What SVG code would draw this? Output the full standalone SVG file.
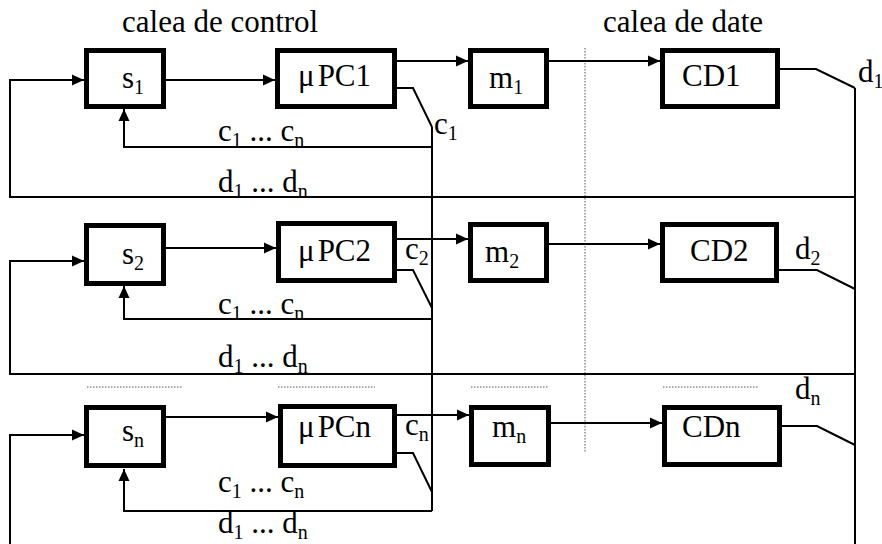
<svg xmlns="http://www.w3.org/2000/svg" width="882" height="544" viewBox="0 0 882 544">
<style>
.box{fill:#fff;stroke:#000;stroke-width:5}
.ln{fill:none;stroke:#000;stroke-width:2}
.arr{fill:none;stroke:#000;stroke-width:2;marker-end:url(#ah)}
.dot{fill:none;stroke:#555;stroke-width:1;stroke-dasharray:1.5 1.5}
text{font-family:'Liberation Serif','Times New Roman',serif;font-size:31px;fill:#000}
.sub{font-size:20px}
</style>
<defs>
<marker id="ah" markerWidth="12" markerHeight="12" refX="12" refY="6" orient="auto" markerUnits="userSpaceOnUse">
<path d="M0,0.5 L12,6 L0,11.5 z" fill="#000"/>
</marker>
</defs>
<rect width="882" height="544" fill="#fff"/>
<text x="122" y="32">calea de control</text>
<text x="603" y="32">calea de date</text>
<g id="connectors">
<line class="dot" x1="585" y1="48" x2="585" y2="452"/>
<line class="dot" x1="87" y1="387" x2="183" y2="387"/>
<line class="dot" x1="278" y1="387" x2="375" y2="387"/>
<line class="dot" x1="471" y1="387" x2="549" y2="387"/>
<line class="dot" x1="663" y1="387" x2="759" y2="387"/>
<line class="arr" x1="166" y1="80" x2="275" y2="80"/>
<line class="arr" x1="397" y1="61" x2="468" y2="61"/>
<line class="arr" x1="549" y1="61" x2="660" y2="61"/>
<polyline class="ln" points="397,88 413,88 432,127"/>
<polyline class="ln" points="780,69 816,69 855,88"/>
<polyline class="arr" points="432,147 124,147 124,109"/>
<polyline class="arr" points="855,197 10,197 10,80 84,80"/>
<line class="arr" x1="166" y1="248" x2="276" y2="248"/>
<line class="arr" x1="397" y1="239" x2="468" y2="239"/>
<line class="arr" x1="549" y1="244" x2="660" y2="244"/>
<polyline class="ln" points="397,270 413,270 432,308"/>
<polyline class="ln" points="779,270 817,270 855,289"/>
<polyline class="arr" points="432,319 124,319 124,286"/>
<polyline class="arr" points="855,374 10,374 10,261 84,261"/>
<line class="arr" x1="166" y1="417" x2="278" y2="417"/>
<line class="arr" x1="397" y1="415" x2="469" y2="415"/>
<line class="arr" x1="551" y1="423" x2="662" y2="423"/>
<polyline class="ln" points="397,453 413,453 432,492"/>
<polyline class="ln" points="782,426 817,426 855,445"/>
<polyline class="arr" points="432,511 124,511 124,469"/>
<polyline class="arr" points="10,546 10,435 84,435"/>
<line class="ln" x1="432" y1="127" x2="432" y2="511"/>
<line class="ln" x1="855" y1="88" x2="855" y2="546"/>
</g>
<g id="labels">
<text x="434" y="134">c<tspan class="sub" dy="6">1</tspan></text>
<text x="858" y="82">d<tspan class="sub" dy="6">1</tspan></text>
<text x="405" y="259">c<tspan class="sub" dy="6">2</tspan></text>
<text x="795" y="259">d<tspan class="sub" dy="6">2</tspan></text>
<text x="405" y="435">c<tspan class="sub" dy="6">n</tspan></text>
<text x="795" y="399">d<tspan class="sub" dy="6">n</tspan></text>
<text x="218" y="141">c<tspan class="sub" dy="6">1</tspan><tspan dy="-6"> ... c</tspan><tspan class="sub" dy="6">n</tspan></text>
<text x="218" y="192">d<tspan class="sub" dy="6">1</tspan><tspan dy="-6"> ... d</tspan><tspan class="sub" dy="6">n</tspan></text>
<text x="218" y="314">c<tspan class="sub" dy="6">1</tspan><tspan dy="-6"> ... c</tspan><tspan class="sub" dy="6">n</tspan></text>
<text x="218" y="367">d<tspan class="sub" dy="6">1</tspan><tspan dy="-6"> ... d</tspan><tspan class="sub" dy="6">n</tspan></text>
<text x="218" y="492">c<tspan class="sub" dy="6">1</tspan><tspan dy="-6"> ... c</tspan><tspan class="sub" dy="6">n</tspan></text>
<text x="218" y="533">d<tspan class="sub" dy="6">1</tspan><tspan dy="-6"> ... d</tspan><tspan class="sub" dy="6">n</tspan></text>
</g>
<g id="s1"><rect class="box" x="86.5" y="50.5" width="77" height="56"/><text x="122" y="88">s<tspan class="sub" dy="6">1</tspan></text></g>
<g id="uPC1"><rect class="box" x="277.5" y="50.5" width="117" height="56"/><text x="298" y="86">μ<tspan dx="3">PC1</tspan></text></g>
<g id="m1"><rect class="box" x="470.5" y="50.5" width="76" height="56"/><text x="489" y="88">m<tspan class="sub" dy="6">1</tspan></text></g>
<g id="CD1"><rect class="box" x="662.5" y="50.5" width="115" height="56"/><text x="682" y="86">CD1</text></g>
<g id="s2"><rect class="box" x="86.5" y="225.5" width="77" height="58"/><text x="122" y="264">s<tspan class="sub" dy="6">2</tspan></text></g>
<g id="uPC2"><rect class="box" x="278.5" y="223.5" width="116" height="57"/><text x="298" y="261">μ<tspan dx="3">PC2</tspan></text></g>
<g id="m2"><rect class="box" x="470.5" y="224.5" width="76" height="56"/><text x="485" y="262">m<tspan class="sub" dy="6">2</tspan></text></g>
<g id="CD2"><rect class="box" x="662.5" y="224.5" width="114" height="56"/><text x="690" y="261">CD2</text></g>
<g id="sn"><rect class="box" x="86.5" y="407.5" width="77" height="58"/><text x="122" y="441">s<tspan class="sub" dy="6">n</tspan></text></g>
<g id="uPCn"><rect class="box" x="280.5" y="406.5" width="114" height="59"/><text x="298" y="437">μ<tspan dx="3">PCn</tspan></text></g>
<g id="mn"><rect class="box" x="471.5" y="407.5" width="77" height="57"/><text x="492" y="437">m<tspan class="sub" dy="6">n</tspan></text></g>
<g id="CDn"><rect class="box" x="664.5" y="407.5" width="115" height="57"/><text x="682" y="437">CDn</text></g>
</svg>
